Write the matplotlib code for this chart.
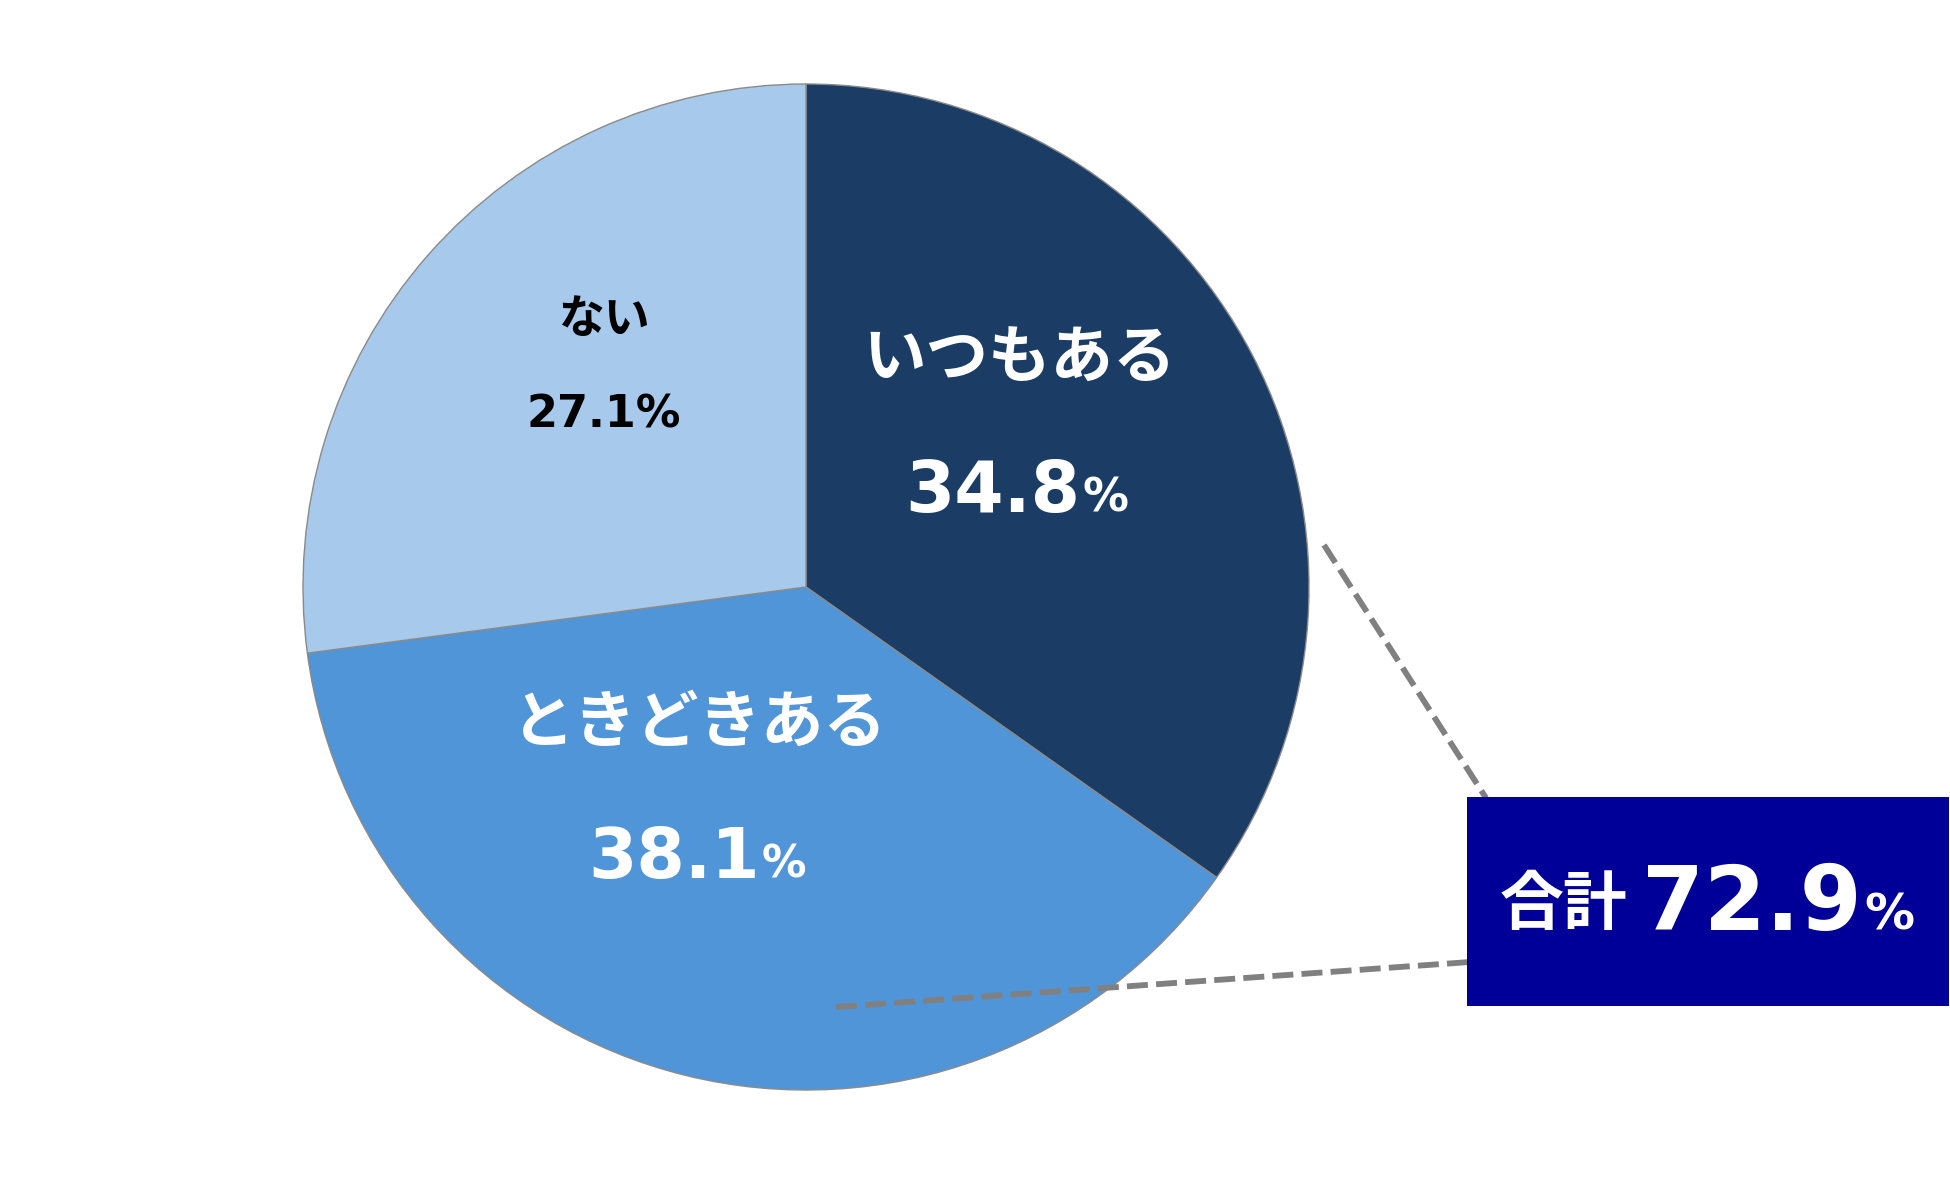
import matplotlib
matplotlib.use("Agg")
import matplotlib.pyplot as plt
from matplotlib.patches import Rectangle

# data
labels = ["いつもある", "ときどきある", "ない"]
values = [34.8, 38.1, 27.1]
colors = ["#1A3C65", "#5095D8", "#A7C9EB"]
total_label = "合計"
total_value = 72.9

W, H = 1950, 1196
fig = plt.figure(figsize=(W / 100, H / 100), dpi=100)
ax = fig.add_axes([0, 0, 1, 1])

def Y(y):
    # pixel row (from top) -> data y
    return H - y

ax.pie(values, colors=colors, startangle=90, counterclock=False,
       center=(806, Y(587)), radius=503, frame=True,
       wedgeprops=dict(edgecolor="#8a8a8a", linewidth=1.0))
ax.set_xlim(0, W)
ax.set_ylim(0, H)
ax.set_aspect("equal")
ax.axis("off")

jp = "Noto Sans CJK JP"
num = "DejaVu Sans"

# いつもある
ax.text(1020, Y(359), labels[0], family=jp, weight="bold", fontsize=45,
        color="white", ha="center", va="center")
ax.text(1080, Y(512), f"{values[0]:.1f}", family=num, weight="bold", fontsize=51,
        color="white", ha="right", va="baseline")
ax.text(1082, Y(512), "%", family=num, weight="bold", fontsize=33,
        color="white", ha="left", va="baseline")

# ときどきある
ax.text(699, Y(723), labels[1], family=jp, weight="bold", fontsize=45,
        color="white", ha="center", va="center")
ax.text(760, Y(878), f"{values[1]:.1f}", family=num, weight="bold", fontsize=50,
        color="white", ha="right", va="baseline")
ax.text(762, Y(878), "%", family=num, weight="bold", fontsize=32,
        color="white", ha="left", va="baseline")

# ない
ax.text(604, Y(320), labels[2], family=jp, weight="bold", fontsize=33,
        color="black", ha="center", va="center")
ax.text(604, Y(427), f"{values[2]:.1f}%", family=num, weight="bold", fontsize=32,
        color="black", ha="center", va="baseline")

# connector lines
dash = (0, (3.6, 1.4))
ax.plot([1324, 1486], [Y(545), Y(798)], color="#808080", lw=4.2, linestyle=dash,
        dash_capstyle="butt", zorder=3)
ax.plot([836, 1470], [Y(1007), Y(962)], color="#808080", lw=4.2, linestyle=dash,
        dash_capstyle="butt", zorder=3)

# total box
ax.add_patch(Rectangle((1467, Y(1006)), 482, 209, facecolor="#000099",
                       edgecolor="none", zorder=4))
ax.text(1564, Y(905), total_label, family=jp, weight="bold", fontsize=46,
        color="white", ha="center", va="center", zorder=5)
ax.text(1862, Y(930), f"{total_value:.1f}", family=num, weight="bold", fontsize=64,
        color="white", ha="right", va="baseline", zorder=5)
ax.text(1864, Y(930), "%", family=num, weight="bold", fontsize=36,
        color="white", ha="left", va="baseline", zorder=5)

fig.savefig("out.png", dpi=100)
